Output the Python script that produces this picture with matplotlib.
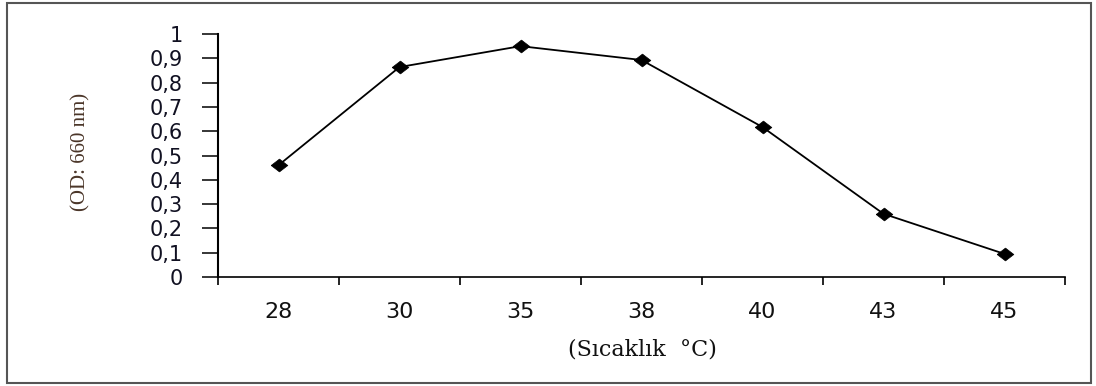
import numpy as np
import matplotlib.pyplot as plt
from matplotlib.patches import Rectangle

temps = ['28', '30', '35', '38', '40', '43', '45']
od = [0.46, 0.864, 0.95, 0.893, 0.617, 0.26, 0.095]
yticks = [0, 0.1, 0.2, 0.3, 0.4, 0.5, 0.6, 0.7, 0.8, 0.9, 1.0]
ytick_labels = ['0', '0,1', '0,2', '0,3', '0,4', '0,5', '0,6', '0,7', '0,8', '0,9', '1']

fig = plt.figure(figsize=(10.96, 3.86), dpi=100)
ax = fig.add_axes([218/1096, 1-277/386, (1065-218)/1096, (277-34)/386])

# wide, flat diamond like the original
diamond = [(-1.3, 0), (0, 1), (1.3, 0), (0, -1), (-1.3, 0)]

x = np.arange(len(temps))
ax.plot(x, od, color='black', lw=1.3, marker=diamond, markersize=12,
        markerfacecolor='black', markeredgecolor='black', markeredgewidth=0.5)

ax.set_xlim(-0.5, len(temps) - 0.5)
ax.set_ylim(0, 1)

# category boundaries get the ticks, labels sit between them
ax.set_xticks(np.arange(len(temps) + 1) - 0.5)
ax.set_xticklabels([])
ax.set_xticks(x, minor=True)
ax.set_xticklabels(temps, minor=True, fontsize=16, family='DejaVu Sans')
ax.tick_params(axis='x', which='major', direction='out', length=6, width=1.2)
ax.tick_params(axis='x', which='minor', length=0, pad=18, colors='#111111')

ax.set_yticks(yticks)
ax.set_yticklabels(ytick_labels, fontsize=15, family='DejaVu Sans', color='#111122')
ax.tick_params(axis='y', direction='out', length=11.5, width=1.1, pad=14)

for s in ['top', 'right']:
    ax.spines[s].set_visible(False)
ax.spines['left'].set_linewidth(1.5)
ax.spines['bottom'].set_linewidth(1.2)

ax.set_ylabel('(OD: 660 nm)', family='Liberation Serif', fontsize=15,
              color='#4a3528')
ax.yaxis.set_label_coords(-0.15, 0.514)
ax.set_xlabel('(Sıcaklık  °C)', family='DejaVu Serif', fontsize=16,
              color='#111111')
ax.xaxis.set_label_coords(0.5006, -0.255)

frame = Rectangle((7/1096, 3/386), 1084/1096, 380/386, transform=fig.transFigure,
                  fill=False, edgecolor='#555555', lw=1.5)
fig.patches.append(frame)

fig.savefig('out.png', dpi=100)
